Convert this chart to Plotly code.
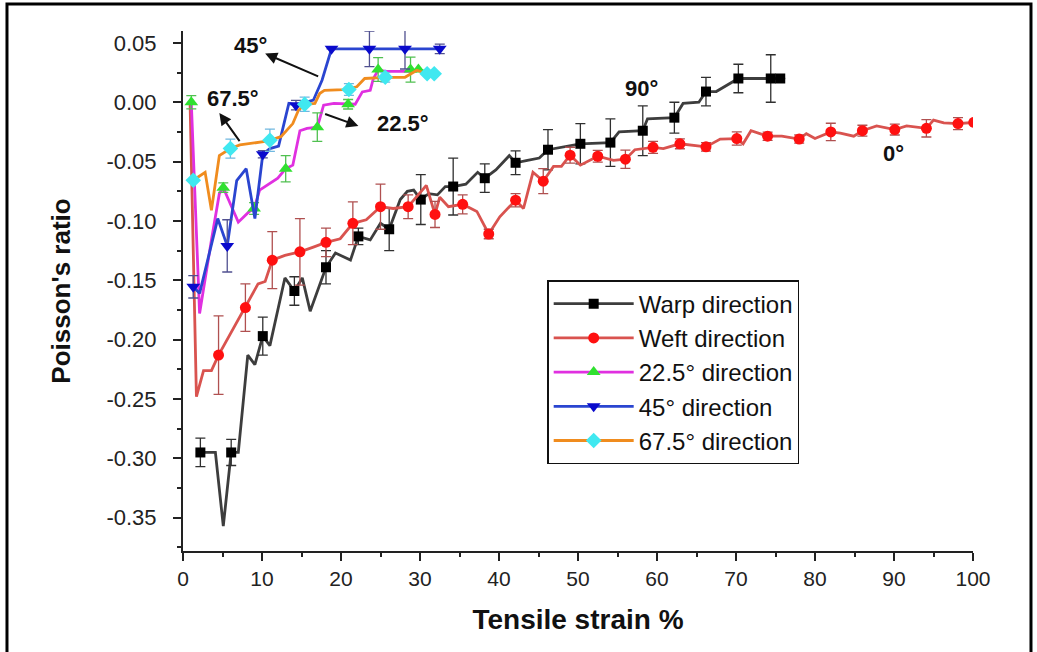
import plotly.graph_objects as go

# ---------------- data ----------------
# Warp direction (90°)
warp_line_x = [2.2, 4.1, 5.1, 6.1, 7.0, 8.2, 9.1, 10.1, 11.0, 12.9, 14.1, 15.1, 16.1, 17.6, 18.1, 19.3, 21.2, 22.2,
               23.7, 25.0, 26.1, 27.5, 28.4, 29.2, 30.1, 31.1, 32.2, 33.2, 34.2, 35.8, 37.3, 38.2, 39.6, 41.3, 42.1,
               43.6, 45.1, 46.2, 47.8, 50.3, 54.1, 55.2, 58.2, 58.8, 62.2, 63.3, 65.3, 66.2, 67.5, 69.6, 70.3, 74.4, 75.6]
warp_line_y = [-0.295, -0.295, -0.357, -0.295, -0.295, -0.213, -0.221, -0.197, -0.205, -0.148, -0.159, -0.148, -0.176,
               -0.148, -0.139, -0.127, -0.133, -0.113, -0.116, -0.102, -0.107, -0.082, -0.075, -0.074, -0.082, -0.077,
               -0.078, -0.071, -0.071, -0.069, -0.059, -0.064, -0.057, -0.045, -0.051, -0.049, -0.047, -0.040, -0.038,
               -0.035, -0.034, -0.025, -0.024, -0.014, -0.013, -0.001, 0.000, 0.009, 0.009, 0.017, 0.020, 0.020, 0.020]
warp_mark_x = [2.2, 6.1, 10.1, 14.1, 18.1, 22.2, 26.1, 30.1, 34.2, 38.2, 42.1, 46.2, 50.3, 54.1, 58.2, 62.2, 66.2,
               70.3, 74.4, 75.6]
warp_mark_y = [-0.295, -0.295, -0.197, -0.159, -0.139, -0.113, -0.107, -0.082, -0.071, -0.064, -0.051, -0.040, -0.035,
               -0.034, -0.024, -0.013, 0.009, 0.020, 0.020, 0.020]
warp_err = [0.012, 0.011, 0.016, 0.012, 0.014, 0.007, 0.018, 0.021, 0.024, 0.012, 0.010, 0.017, 0.017, 0.020, 0.021,
            0.013, 0.012, 0.012, 0.020, 0.0]

# Weft direction (0°)
weft_line_x = [0.9, 1.7, 2.6, 3.6, 4.5, 6.2, 7.9, 9.5, 10.4, 11.3, 12.9, 14.8, 16.5, 18.1, 19.9, 21.5, 23.2, 25.0,
               26.6, 28.5, 30.8, 31.9, 32.5, 33.6, 35.4, 37.2, 38.7, 40.1, 42.1, 43.1, 44.3, 45.6, 46.9, 47.9, 49.0,
               50.3, 52.5, 54.5, 56.0, 57.2, 59.5, 60.8, 62.9, 64.4, 66.2, 68.0, 70.1, 70.9, 71.9, 74.0, 75.8, 78.0,
               78.9, 80.0, 82.0, 83.2, 84.9, 86.0, 87.8, 90.1, 91.6, 94.1, 95.0, 96.3, 98.1, 100.1]
weft_line_y = [-0.002, -0.248, -0.226, -0.226, -0.213, -0.193, -0.173, -0.153, -0.151, -0.133, -0.129, -0.126, -0.122,
               -0.118, -0.115, -0.102, -0.099, -0.088, -0.0895, -0.088, -0.070, -0.0945, -0.080, -0.088, -0.086,
               -0.092, -0.111, -0.0965, -0.0825, -0.0895, -0.059, -0.0665, -0.054, -0.054, -0.0446, -0.053, -0.0455,
               -0.049, -0.048, -0.040, -0.038, -0.039, -0.035, -0.036, -0.0376, -0.031, -0.0306, -0.035, -0.024,
               -0.0286, -0.0286, -0.031, -0.0265, -0.0306, -0.025, -0.026, -0.0286, -0.024, -0.020, -0.023, -0.020,
               -0.022, -0.015, -0.0174, -0.018, -0.017]
weft_mark_x = [4.5, 7.9, 11.3, 14.8, 18.1, 21.5, 25.0, 28.5, 31.9, 35.4, 38.7, 42.1, 45.6, 49.0, 52.5, 56.0, 59.5,
               62.9, 66.2, 70.1, 74.0, 78.0, 82.0, 86.0, 90.1, 94.1, 98.1, 100.1]
weft_mark_y = [-0.213, -0.173, -0.133, -0.126, -0.118, -0.102, -0.088, -0.088, -0.0945, -0.086, -0.111, -0.0825,
               -0.0665, -0.0446, -0.0455, -0.048, -0.038, -0.035, -0.0376, -0.0306, -0.0286, -0.031, -0.025, -0.024,
               -0.023, -0.022, -0.018, -0.017]
weft_err = [0.033, 0.020, 0.024, 0.028, 0.012, 0.018, 0.019, 0.010, 0.011, 0.008, 0.004, 0.0056, 0.0105, 0.0067,
            0.005, 0.0077, 0.005, 0.0042, 0.0035, 0.0056, 0.0035, 0.0035, 0.0073, 0.0046, 0.0046, 0.0073, 0.005, 0.0]

# 22.5° direction
d22_line_x = [1.05, 2.1, 3.6, 4.6, 5.1, 7.0, 8.4, 9.0, 9.7, 12.0, 13.0, 13.9, 14.8, 15.7, 17.0, 17.8, 19.1, 20.9,
              21.8, 22.7, 23.7, 24.1, 24.7, 25.8, 28.8, 29.8]
d22_line_y = [0.000, -0.178, -0.116, -0.077, -0.072, -0.101, -0.092, -0.0895, -0.074, -0.064, -0.056, -0.053, -0.024,
              -0.022, -0.021, -0.0025, -0.001, -0.0017, -0.0017, 0.0087, 0.010, 0.020, 0.027, 0.026, 0.026, 0.027]
d22_mark_x = [1.05, 5.1, 9.0, 13.0, 17.0, 20.9, 24.7, 28.8, 29.8]
d22_mark_y = [0.000, -0.072, -0.0895, -0.056, -0.021, -0.0017, 0.0275, 0.0275, 0.0275]
d22_err = [0.0056, 0.004, 0.005, 0.011, 0.012, 0.004, 0.010, 0.0105, 0.0]

# 45° direction
d45_line_x = [1.3, 2.1, 4.4, 5.6, 6.8, 8.0, 9.1, 10.1, 11.0, 12.1, 13.4, 14.3, 16.5, 17.6, 18.8, 23.6, 28.1, 32.5]
d45_line_y = [-0.1555, -0.161, -0.098, -0.121, -0.066, -0.056, -0.098, -0.0438, -0.039, -0.037, -0.001, -0.0025,
              0.0017, 0.0185, 0.045, 0.045, 0.045, 0.045]
d45_mark_x = [1.3, 5.6, 10.1, 14.3, 18.8, 23.6, 28.1, 32.5]
d45_mark_y = [-0.1555, -0.121, -0.0438, -0.0025, 0.045, 0.045, 0.045, 0.045]
d45_err = [0.0094, 0.022, 0.003, 0.004, 0.0, 0.015, 0.017, 0.004]

# 67.5° direction
d67_line_x = [1.3, 2.8, 3.6, 4.6, 6.0, 7.2, 10.4, 11.0, 12.4, 13.9, 14.6, 15.4, 16.7, 17.3, 17.9, 20.3, 22.0, 23.0,
              25.6, 28.1, 29.6, 30.9, 31.8]
d67_line_y = [-0.0657, -0.059, -0.091, -0.045, -0.039, -0.036, -0.033, -0.032, -0.029, -0.018, -0.007, -0.0017,
              -0.001, 0.0073, 0.010, 0.0107, 0.013, 0.020, 0.021, 0.021, 0.027, 0.024, 0.024]
d67_mark_x = [1.3, 6.0, 11.0, 15.4, 21.0, 25.6, 30.9, 31.8]
d67_mark_y = [-0.0657, -0.039, -0.032, -0.0017, 0.0107, 0.021, 0.024, 0.024]
d67_err = [0.0, 0.008, 0.0094, 0.006, 0.005, 0.004, 0.0, 0.0]

y_tick_vals = [0.05, 0.0, -0.05, -0.10, -0.15, -0.20, -0.25, -0.30, -0.35]
y_tick_text = ["0.05", "0.00", "-0.05", "-0.10", "-0.15", "-0.20", "-0.25", "-0.30", "-0.35"]
x_tick_vals = [0, 10, 20, 30, 40, 50, 60, 70, 80, 90, 100]

series = [
    dict(name="Warp direction", lx=warp_line_x, ly=warp_line_y, mx=warp_mark_x, my=warp_mark_y, e=warp_err,
         lc="#3d3d3d", mc="#000000", ec="#303030", sym="square", ms=10),
    dict(name="Weft direction", lx=weft_line_x, ly=weft_line_y, mx=weft_mark_x, my=weft_mark_y, e=weft_err,
         lc="#d9534f", mc="#ff1010", ec="#b05050", sym="circle", ms=11),
    dict(name="22.5° direction", lx=d22_line_x, ly=d22_line_y, mx=d22_mark_x, my=d22_mark_y, e=d22_err,
         lc="#e030e0", mc="#30e030", ec="#50c050", sym="triangle-up", ms=12),
    dict(name="45° direction", lx=d45_line_x, ly=d45_line_y, mx=d45_mark_x, my=d45_mark_y, e=d45_err,
         lc="#2a45d0", mc="#0a0acc", ec="#505090", sym="triangle-down", ms=12),
    dict(name="67.5° direction", lx=d67_line_x, ly=d67_line_y, mx=d67_mark_x, my=d67_mark_y, e=d67_err,
         lc="#f08c1e", mc="#40e8f0", ec="#70b8e0", sym="diamond", ms=12),
]

fig = go.Figure()
for i, s in enumerate(series):
    fig.add_trace(go.Scatter(x=s["lx"], y=s["ly"], mode="lines", line=dict(color=s["lc"], width=2.8),
                             showlegend=False, hoverinfo="skip"))
    fig.add_trace(go.Scatter(x=s["mx"], y=s["my"], mode="markers",
                             marker=dict(symbol=s["sym"], size=s["ms"], color=s["mc"], line=dict(width=0)),
                             error_y=dict(type="data", array=s["e"], visible=True, color=s["ec"], thickness=1.3,
                                          width=5),
                             showlegend=False))
for i, s in enumerate(series):
    fig.add_trace(go.Scatter(x=[None], y=[None], mode="lines+markers", name=s["name"], legendgroup=f"g{i}",
                             line=dict(color=s["lc"], width=2.8),
                             marker=dict(symbol=s["sym"], size=s["ms"], color=s["mc"])))

lbl_font = dict(family="Liberation Sans, Arial", size=22, color="#111111")
labels = [("45°", 8.6, 0.0476), ("67.5°", 6.3, 0.003), ("22.5°", 27.8, -0.018), ("90°", 58.1, 0.0115),
          ("0°", 89.9, -0.043)]
for t, x, y in labels:
    fig.add_annotation(x=x, y=y, text=f"<b>{t}</b>", showarrow=False, font=lbl_font)
arrows = [(10.4, 0.041, 17.3, 0.0213), (4.6, -0.009, 7.3, -0.034), (22.2, -0.020, 17.8, -0.0095)]
for x, y, ax, ay in arrows:
    fig.add_annotation(x=x, y=y, ax=ax, ay=ay, axref="x", ayref="y", text="", showarrow=True,
                       arrowhead=2, arrowsize=1.2, arrowwidth=2, arrowcolor="#111111")

fig.add_shape(type="rect", xref="paper", yref="paper", x0=-0.2228, x1=1.0734, y0=-0.22, y1=1.052,
              line=dict(color="black", width=3))

axis_common = dict(showline=True, linecolor="#222222", linewidth=2, ticks="outside", ticklen=8, tickwidth=2,
                   tickcolor="#222222", showgrid=False, zeroline=False, mirror=False)
fig.update_xaxes(range=[0, 100], tickvals=x_tick_vals,
                 tickfont=dict(family="Liberation Sans, Arial", size=21, color="#222222"),
                 minor=dict(ticks="outside", ticklen=4, tickwidth=2, tickcolor="#222222", dtick=5, tick0=0),
                 title=dict(text="<b>Tensile strain %</b>", standoff=20,
                            font=dict(family="Liberation Sans, Arial", size=28, color="#111111")),
                 **axis_common)
fig.update_yaxes(range=[-0.378, 0.06], tickvals=y_tick_vals, ticktext=y_tick_text, ticklabelstandoff=12,
                 tickfont=dict(family="Liberation Sans, Arial", size=22, color="#222222"),
                 minor=dict(ticks="outside", ticklen=4, tickwidth=2, tickcolor="#222222", dtick=0.025, tick0=0),
                 title=dict(text="<b>Poisson's ratio</b>", standoff=28,
                            font=dict(family="Liberation Sans, Arial", size=26, color="#111111")),
                 **axis_common)

fig.update_layout(
    width=1037, height=652,
    margin=dict(l=183, r=64, t=31, b=101, autoexpand=False),
    plot_bgcolor="white", paper_bgcolor="white",
    legend=dict(x=0.461, y=0.521, xanchor="left", yanchor="top", bordercolor="#111111", borderwidth=1.5,
                bgcolor="white", font=dict(family="Liberation Sans, Arial", size=24, color="#111111"),
                tracegroupgap=0, itemwidth=80),
)

fig.write_html("out.html")
